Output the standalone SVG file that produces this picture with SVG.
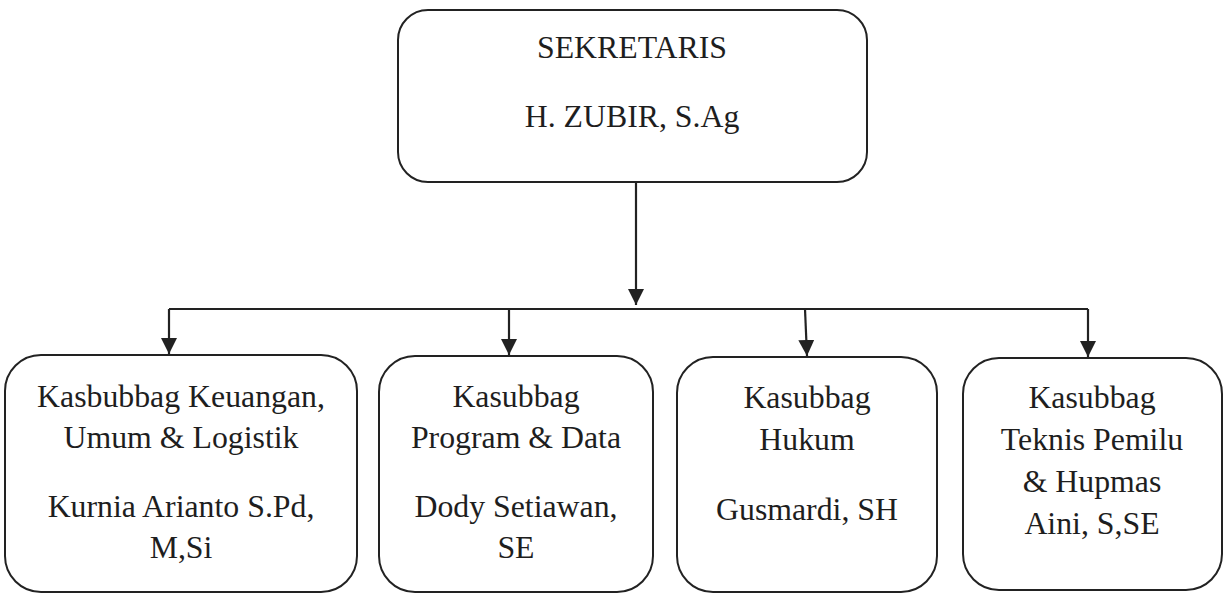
<svg xmlns="http://www.w3.org/2000/svg" width="1224" height="594" viewBox="0 0 1224 594">
  <style>
    .box { fill: #ffffff; stroke: #222222; stroke-width: 2; }
    .wire { fill: none; stroke: #222222; stroke-width: 2.2; }
    .label { font-family: 'Liberation Serif', 'Times New Roman', serif; font-size: 31.8px; fill: #1e1e1e; text-anchor: middle; }
  </style>
  <defs>
    <marker id="arrow" markerUnits="userSpaceOnUse" markerWidth="16" markerHeight="18" viewBox="0 0 16 18" refX="16" refY="8" orient="auto">
      <path d="M0,0 L16,8 L0,16 z" fill="#222222"/>
    </marker>
  </defs>
  <rect width="1224" height="594" fill="#ffffff"/>

  <!-- connectors -->
  <g id="connectors">
    <path class="wire" d="M636,182 L636,305" marker-end="url(#arrow)"/>
    <path class="wire" d="M169,309 L1088,309"/>
    <path class="wire" d="M169,309 L169,354" marker-end="url(#arrow)"/>
    <path class="wire" d="M509,309 L509,355" marker-end="url(#arrow)"/>
    <path class="wire" d="M805,309 L807,356" marker-end="url(#arrow)"/>
    <path class="wire" d="M1088,309 L1088,357" marker-end="url(#arrow)"/>
  </g>

  <!-- top node -->
  <g id="sekretaris">
    <rect class="box" x="398" y="10" width="469" height="172" rx="30" ry="30"/>
    <text class="label" x="632" y="58">SEKRETARIS</text>
    <text class="label" x="632" y="127">H. ZUBIR, S.Ag</text>
  </g>

  <!-- sub-sections -->
  <g id="keuangan">
    <rect class="box" x="5" y="355" width="352" height="237" rx="36" ry="36"/>
    <text class="label" x="181" y="407">Kasbubbag Keuangan,</text>
    <text class="label" x="181" y="448">Umum &amp; Logistik</text>
    <text class="label" x="181" y="517">Kurnia Arianto S.Pd,</text>
    <text class="label" x="181" y="558">M,Si</text>
  </g>

  <g id="program">
    <rect class="box" x="379" y="356" width="274" height="236" rx="36" ry="36"/>
    <text class="label" x="516" y="407">Kasubbag</text>
    <text class="label" x="516" y="448">Program &amp; Data</text>
    <text class="label" x="516" y="517">Dody Setiawan,</text>
    <text class="label" x="516" y="558">SE</text>
  </g>

  <g id="hukum">
    <rect class="box" x="677" y="357" width="260" height="235" rx="36" ry="36"/>
    <text class="label" x="807" y="408">Kasubbag</text>
    <text class="label" x="807" y="450">Hukum</text>
    <text class="label" x="807" y="520">Gusmardi, SH</text>
  </g>

  <g id="teknis">
    <rect class="box" x="963" y="358" width="259" height="232" rx="36" ry="36"/>
    <text class="label" x="1092" y="408">Kasubbag</text>
    <text class="label" x="1092" y="450">Teknis Pemilu</text>
    <text class="label" x="1092" y="492">&amp; Hupmas</text>
    <text class="label" x="1092" y="534">Aini, S,SE</text>
  </g>
</svg>
